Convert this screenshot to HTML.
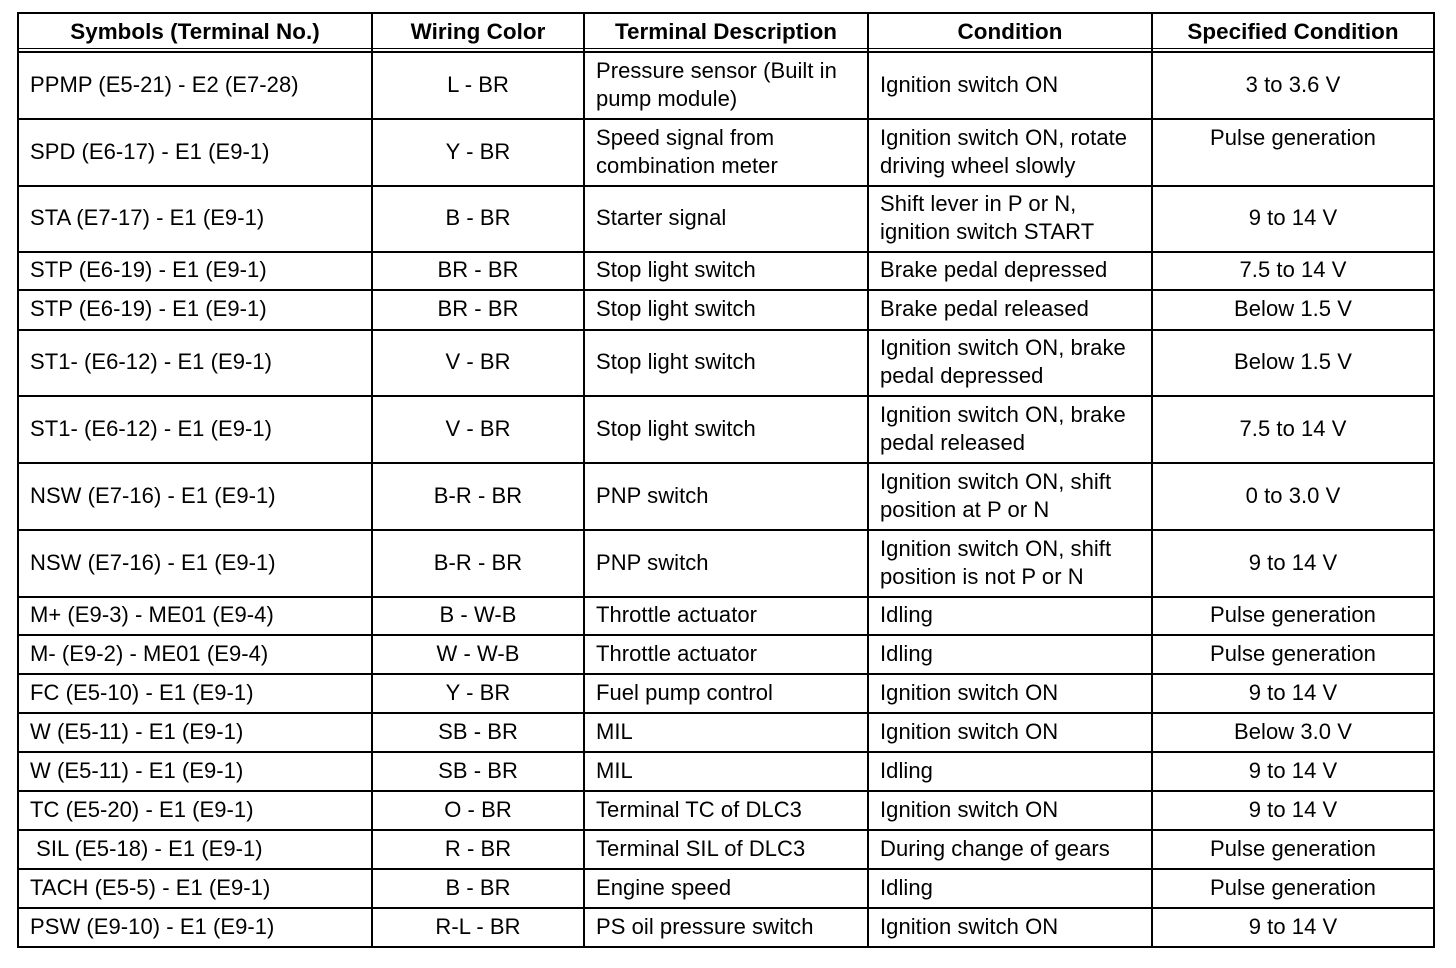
<!DOCTYPE html>
<html><head><meta charset="utf-8"><style>
body{margin:0;width:1456px;height:968px;background:#fff;position:relative;font-family:"Liberation Sans",Arial,sans-serif;color:#000;overflow:hidden}
.h{position:absolute;height:2px;background:#000;left:17px;width:1418px}
.v{position:absolute;width:2px;background:#000;top:12px;height:936px}
.c{position:absolute;display:flex;align-items:center;font-size:22px;line-height:28px;box-sizing:border-box;padding-left:12px;white-space:nowrap;letter-spacing:0.05px}
.m{justify-content:center;text-align:center;padding-left:0}
.b{font-weight:bold;font-size:22.4px}
</style></head><body>
<div id="t"></div>
<script>
const cols=[18,372,584,868,1152,1434];
const rows=[13,52,119,186,252,290,330,396,463,530,597,635,674,713,752,791,830,869,908,947];
const data=[
["PPMP (E5-21) - E2 (E7-28)","L - BR","Pressure sensor (Built in<br>pump module)","Ignition switch ON","3 to 3.6 V"],
["SPD (E6-17) - E1 (E9-1)","Y - BR","Speed signal from<br>combination meter","Ignition switch ON, rotate<br>driving wheel slowly","Pulse generation<br>&nbsp;"],
["STA (E7-17) - E1 (E9-1)","B - BR","Starter signal","Shift lever in P or N,<br>ignition switch START","9 to 14 V"],
["STP (E6-19) - E1 (E9-1)","BR - BR","Stop light switch","Brake pedal depressed","7.5 to 14 V"],
["STP (E6-19) - E1 (E9-1)","BR - BR","Stop light switch","Brake pedal released","Below 1.5 V"],
["ST1- (E6-12) - E1 (E9-1)","V - BR","Stop light switch","Ignition switch ON, brake<br>pedal depressed","Below 1.5 V"],
["ST1- (E6-12) - E1 (E9-1)","V - BR","Stop light switch","Ignition switch ON, brake<br>pedal released","7.5 to 14 V"],
["NSW (E7-16) - E1 (E9-1)","B-R - BR","PNP switch","Ignition switch ON, shift<br>position at P or N","0 to 3.0 V"],
["NSW (E7-16) - E1 (E9-1)","B-R - BR","PNP switch","Ignition switch ON, shift<br>position is not P or N","9 to 14 V"],
["M+ (E9-3) - ME01 (E9-4)","B - W-B","Throttle actuator","Idling","Pulse generation"],
["M- (E9-2) - ME01 (E9-4)","W - W-B","Throttle actuator","Idling","Pulse generation"],
["FC (E5-10) - E1 (E9-1)","Y - BR","Fuel pump control","Ignition switch ON","9 to 14 V"],
["W (E5-11) - E1 (E9-1)","SB - BR","MIL","Ignition switch ON","Below 3.0 V"],
["W (E5-11) - E1 (E9-1)","SB - BR","MIL","Idling","9 to 14 V"],
["TC (E5-20) - E1 (E9-1)","O - BR","Terminal TC of DLC3","Ignition switch ON","9 to 14 V"],
["&nbsp;SIL (E5-18) - E1 (E9-1)","R - BR","Terminal SIL of DLC3","During change of gears","Pulse generation"],
["TACH (E5-5) - E1 (E9-1)","B - BR","Engine speed","Idling","Pulse generation"],
["PSW (E9-10) - E1 (E9-1)","R-L - BR","PS oil pressure switch","Ignition switch ON","9 to 14 V"]];
const hdr=["Symbols (Terminal No.)","Wiring Color","Terminal Description","Condition","Specified Condition"];
let h="";
rows.forEach(y=>{h+=`<div class="h" style="top:${y-1}px"></div>`});
h+=`<div class="h" style="top:48px;height:1px"></div>`;
cols.forEach(x=>{h+=`<div class="v" style="left:${x-1}px"></div>`});
function cell(ci,ri,txt,cls){const x=cols[ci],y=rows[ri]-1;const w=cols[ci+1]-x,hh=rows[ri+1]-rows[ri];
h+=`<div class="c ${cls}" style="left:${x}px;top:${y}px;width:${w}px;height:${hh}px">${txt}</div>`}
hdr.forEach((t,i)=>cell(i,0,t,"m b"));
data.forEach((r,ri)=>r.forEach((t,ci)=>cell(ci,ri+1,`<span>${t}</span>`,(ci==1||ci==4)?"m":"")));
document.getElementById("t").innerHTML=h;
</script>
</body></html>
